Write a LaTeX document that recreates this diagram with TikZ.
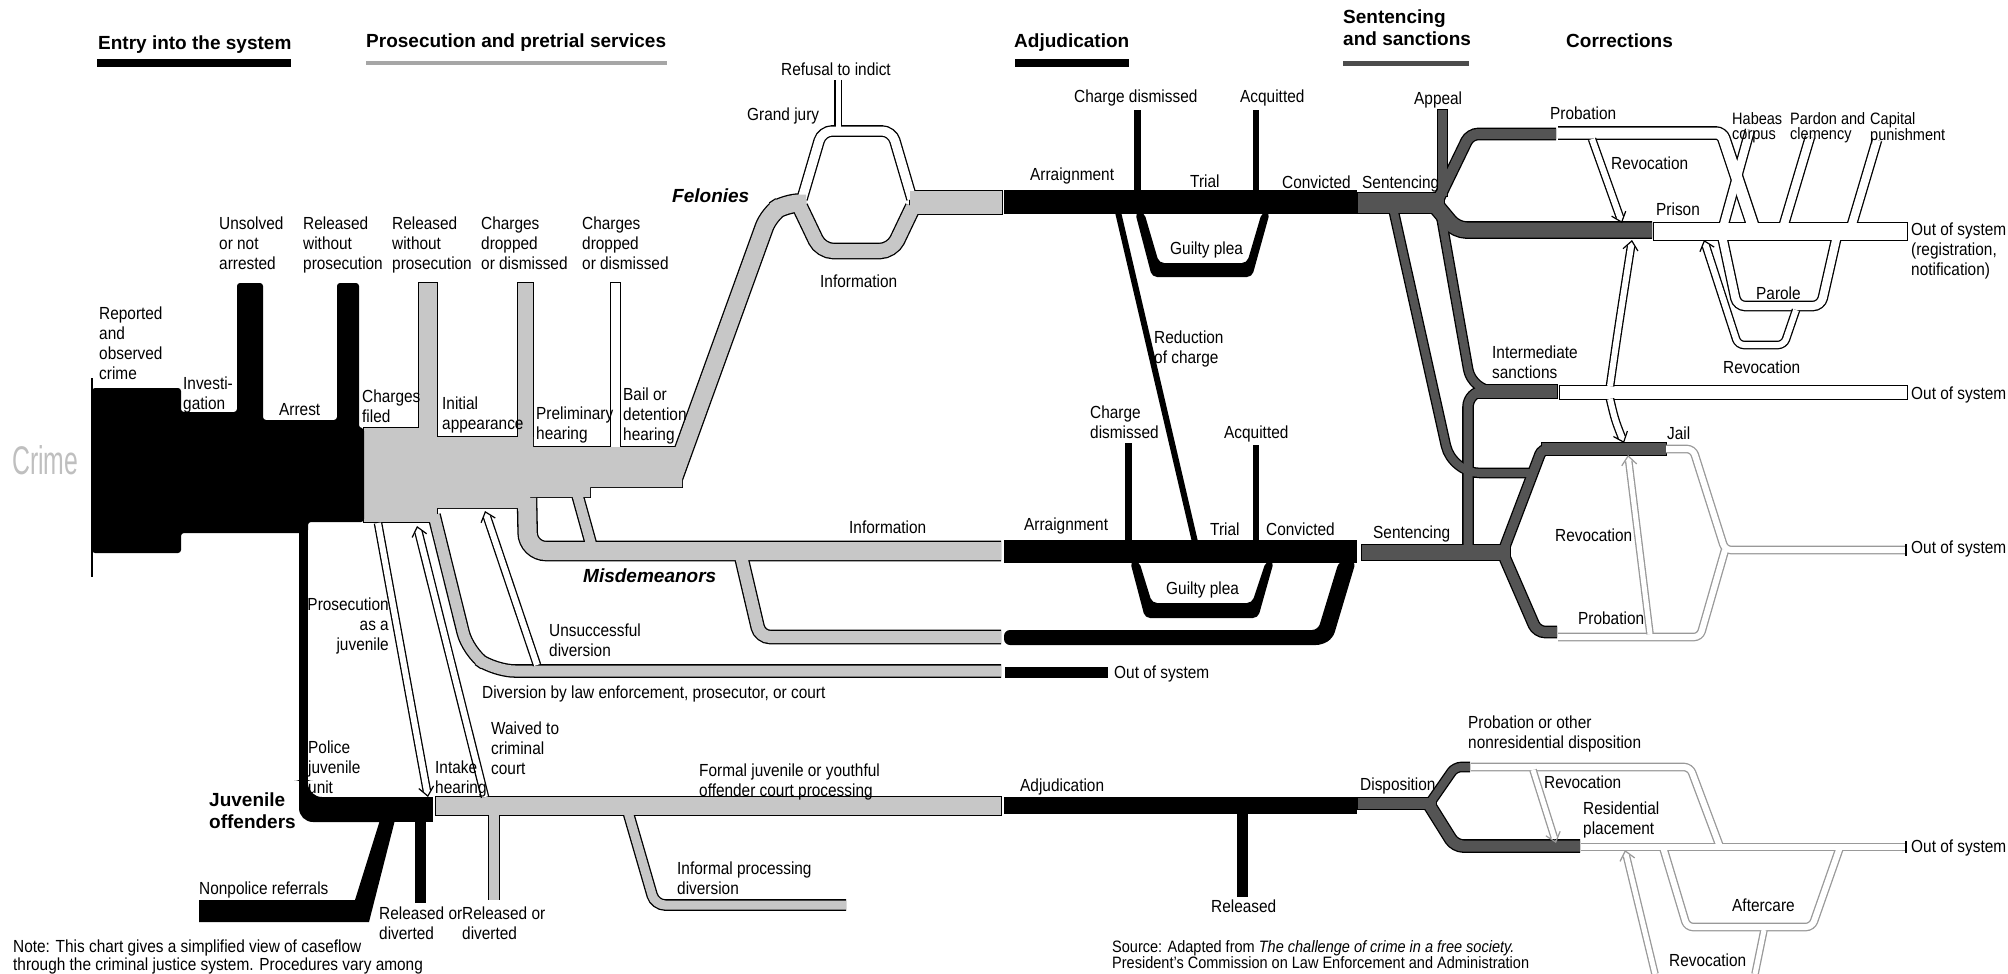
\documentclass[tikz,border=0pt]{standalone}
\usepackage{fontspec}
\setmainfont{Liberation Sans}[FakeStretch=0.88]
\newfontfamily\hfont{Liberation Sans}
\newfontfamily\cfont{Liberation Sans}[FakeStretch=0.62]
\usetikzlibrary{arrows.meta}
\definecolor{lgr}{gray}{0.78}
\definecolor{dgr}{gray}{0.33}
\definecolor{fnt}{gray}{0.6}
\newcommand\labf{\fontsize{17.5}{20}\selectfont}
\newcommand\smf{\fontsize{16.5}{15}\selectfont}
\newcommand\srcf{\fontsize{16.5}{16}\selectfont}
\newcommand\notef{\fontsize{17.5}{16}\selectfont}
\newcommand\hdrf{\hfont\bfseries\fontsize{19}{22}\selectfont}
\newif\ifoutl
\def\oc{black}
\newcommand\tb[4][8]{\ifoutl\draw[line width=#2+2.6,color=\oc,rounded corners=#1]#4;\else\draw[line width=#2,color=#3,rounded corners=#1]#4;\fi}
\newcommand\bl[2]{\ifoutl\draw[line width=2.6,color=\oc]#2;\else\fill[color=#1]#2;\fi}
\newcommand\arw[4][black]{%
 \draw[line width=#2+2.6,color=#1,shorten >=6pt] #3 -- #4;
 \draw[line width=#2,white,shorten >=5pt] #3 -- #4;
 \draw[white,line width=0.3pt,arrtip=#1] #3 -- #4;}
\newcommand\arwp[3][black]{%
 \draw[line width=#2+2.6,color=#1,rounded corners=6,shorten >=6pt] #3;
 \draw[line width=#2,white,rounded corners=6,shorten >=5pt] #3;
 \draw[white,line width=0.3pt,rounded corners=6,arrtip=#1] #3;}
\newcommand\grayparts{
 \bl{white}{(611,283) rectangle (620,449)}
 \tb[1]{5}{white}{(838,80) -- (838,128)}
 \tb[10]{9}{white}{(802,199) -- (822,131) -- (892,131) -- (912,199)}
 \bl{lgr}{(364,428) rectangle (437,522)}
 \bl{lgr}{(419,283) rectangle (437,432)}
 \bl{lgr}{(518,283) rectangle (533,441)}
 \bl{lgr}{(437,437) -- (533,437) -- (533,447) -- (682,447) -- (682,487) -- (590,487) -- (590,497) -- (530,497) -- (530,508) -- (437,508) -- cycle}
 \tb[14]{17}{lgr}{(672,482) -- (769,214) -- (786,203) -- (806,203)}
 \tb[18]{18}{lgr}{(527,498) -- (528,551) -- (1001,551)}
 \tb[3]{10}{lgr}{(576,490) -- (591,544)}
 \tb[10]{12}{lgr}{(741,556) -- (760,637) -- (1001,637)}
 \tb[20]{11}{lgr}{(434,515) -- (468,652) -- (495,671) -- (1001,671)}
 \tb[12]{14}{lgr}{(800,207) -- (821,251) -- (892,251) -- (913,207)}
 \bl{lgr}{(910,191) rectangle (1002,214)}
 \bl{lgr}{(436,797) rectangle (1001,815)}
 \tb[1]{10}{lgr}{(494,810) -- (494,900)}
 \tb[10]{9}{lgr}{(628,812) -- (655,905) -- (846,905)}
}
\newcommand\darkparts{
 \tb[28]{8}{dgr}{(1393,208) -- (1452,473) -- (1535,473)}
 \tb[22]{8}{dgr}{(1440,210) -- (1472,391) -- (1490,391)}
 \tb[16]{9}{dgr}{(1468,552) -- (1468,391) -- (1490,391)}
 \tb[8]{10}{dgr}{(1438,200) -- (1470,134) -- (1556,134)}
 \tb[10]{15}{dgr}{(1436,206) -- (1456,230) -- (1652,230)}
 \bl{dgr}{(1358,193) rectangle (1444,213)}
 \bl{dgr}{(1438,110) rectangle (1447,196)}
 \bl{dgr}{(1477,385) rectangle (1557,398)}
 \bl{dgr}{(1362,545) rectangle (1510,560)}
 \tb[6]{9}{dgr}{(1504,549) -- (1542,449) -- (1560,449)}
 \bl{dgr}{(1542,443) rectangle (1666,455)}
 \tb[8]{10}{dgr}{(1504,556) -- (1537,632) -- (1557,632)}
 \bl{dgr}{(1358,798) rectangle (1436,809)}
 \tb[6]{8}{dgr}{(1430,803) -- (1455,767) -- (1470,767)}
 \tb[8]{11}{dgr}{(1430,806) -- (1455,846) -- (1580,846)}
}
\newcommand\whiteparts{
 \tb[8]{8}{white}{(1721,231) -- (1737,306) -- (1821,306) -- (1838,231)}
 \tb[1]{8}{white}{(1722,231) -- (1750,130)}
 \tb[1]{8}{white}{(1782,231) -- (1810,137)}
 \tb[1]{8}{white}{(1850,231) -- (1877,140)}
 \tb[6]{11}{white}{(1558,133) -- (1722,133) -- (1755,232)}
 \bl{white}{(1654,223) rectangle (1907,240)}
 \bl{white}{(1560,386) rectangle (1907,399)}
}
\newcommand\faintparts{
 \tb[6]{6}{white}{(1666,449) -- (1693,449) -- (1725,550) -- (1905,550)}
 \tb[6]{6}{white}{(1558,637) -- (1700,637) -- (1725,550)}
 \tb[6]{6}{white}{(1471,767) -- (1690,767) -- (1720,847)}
 \tb[1]{6}{white}{(1581,847) -- (1905,847)}
 \tb[6]{6}{white}{(1663,847) -- (1687,927) -- (1812,927) -- (1840,847)}
 \tb[1]{5}{white}{(1764,930) -- (1755,974)}
}
\begin{document}
\begin{tikzpicture}[x=1pt,y=-1pt,
  lb/.style={font=\labf,inner sep=0pt,anchor=north west,align=left},
  hd/.style={font=\hdrf,inner sep=0pt,anchor=north west,align=left},
  arrtip/.style={-{Straight Barb[length=9pt,width=15pt,line width=1.2pt,color=#1]}}]
\fill[white] (0,0) rectangle (2008,974);
\useasboundingbox (0,0) rectangle (2008,974);

% headers
\node[hd] (hEntry) at (98,36) {Entry into the system};
\fill (97,59) rectangle (291,67);
\node[hd] (hPros) at (366,34) {Prosecution and pretrial services};
\fill[black!35] (366,61) rectangle (667,65);
\node[hd] (hAdj) at (1014,34) {Adjudication};
\fill (1015,59) rectangle (1129,67);
\node[hd] (hSent) at (1343,10) {Sentencing\\and sanctions};
\fill[black!70] (1343,61) rectangle (1469,66);
\node[hd] (hCorr) at (1566,34) {Corrections};

\node[font=\cfont\fontsize{40}{40}\selectfont,text=black!25,anchor=north west,inner sep=0pt] (crime) at (12,445) {Crime};

% gray prosecution system
\def\oc{black}
\outltrue\grayparts
\outlfalse\grayparts

% black entry
\fill[rounded corners=3] (92,388) -- (181,388) -- (181,412) -- (237,412) -- (237,283) -- (263,283) -- (263,420) -- (337,420) -- (337,283) -- (359,283) -- (359,428) -- (364,428) -- (364,522) -- (308,522) -- (308,533) -- (181,533) -- (181,553) -- (92,553) -- cycle;
\draw[line width=1.5] (92,378) -- (92,577);
% juvenile black
\fill (299,525) rectangle (308,805);
\fill[rounded corners=14] (299,780) -- (299,822) -- (400,822) -- (400,797) -- (308,797) -- (308,780) -- cycle;
\fill (380,797) rectangle (433,822);
\fill (199,900) -- (355,900) -- (380,820) -- (395,820) -- (369,922) -- (199,922) -- cycle;
\fill (415,820) rectangle (426,903);
% felony adjudication
\fill (1004,190) rectangle (1357,214);
\fill (1134,110) rectangle (1141,192);
\fill (1253,110) rectangle (1259,192);
\fill[rounded corners=5] (1135,212) -- (1152,277) -- (1252,277) -- (1270,212) -- (1262,212) -- (1247,263) -- (1159,263) -- (1144,212) -- cycle;
\draw[line width=6] (1118,212) -- (1195,542);
% misdemeanor adjudication
\fill (1004,540) rectangle (1357,563);
\fill (1125,443) rectangle (1132,541);
\fill (1253,445) rectangle (1259,541);
\fill[rounded corners=5] (1130,561) -- (1145,618) -- (1258,618) -- (1274,561) -- (1266,561) -- (1252,603) -- (1152,603) -- (1139,561) -- cycle;
\fill[rounded corners=6] (1004,630) -- (1318,630) -- (1339,561) -- (1356,561) -- (1333,638) -- (1322,645) -- (1004,645) -- cycle;
\fill (1005,667) rectangle (1108,678);
% juvenile adjudication
\fill (1004,797) rectangle (1357,814);
\fill (1237,812) rectangle (1248,897);

% sentencing
\def\oc{black}
\outltrue\darkparts
\outlfalse\darkparts

% corrections
\outltrue\whiteparts
\outlfalse\whiteparts
\def\oc{fnt}
\outltrue\faintparts
\outlfalse\faintparts
\draw[line width=1.6] (1906,544) -- (1906,556);
\draw[line width=1.6] (1906,841) -- (1906,853);

% arrows
\arw{6}{(378,523)}{(428,797)}
\arw{6}{(485,797)}{(417,526)}
\arw{6}{(537,665)}{(485,511)}
\arw{6}{(1592,139)}{(1622,223)}
\arwp{6}{(1610,386) .. controls (1618,330) .. (1632,240)}
\arwp{6}{(1610,399) .. controls (1615,420) .. (1624,443)}
\arwp{6}{(1796,310) -- (1784,345) -- (1738,345) -- (1704,240)}
\arw[fnt]{5}{(1650,634)}{(1628,455)}
\arw[fnt]{5}{(1533,770)}{(1556,843)}
\arw[fnt]{5}{(1655,974)}{(1625,850)}

% labels
\node[lb] (lUns) at (219,217) {Unsolved\\or not\\arrested};
\node[lb] (lRel1) at (303,217) {Released\\without\\prosecution};
\node[lb] (lRel2) at (392,217) {Released\\without\\prosecution};
\node[lb] (lCh1) at (481,217) {Charges\\dropped\\or dismissed};
\node[lb] (lCh2) at (582,217) {Charges\\dropped\\or dismissed};
\node[lb] (lRep) at (99,307) {Reported\\and\\observed\\crime};
\node[lb] (lInv) at (183,377) {Investi-\\gation};
\node[lb] (lArr) at (279,403) {Arrest};
\node[lb] (lChf) at (362,390) {Charges\\filed};
\node[lb] (lIni) at (442,397) {Initial\\appearance};
\node[lb] (lPre) at (536,407) {Preliminary\\hearing};
\node[lb] (lBail) at (623,388) {Bail or\\detention\\hearing};
\node[hd,font=\hdrf\itshape] (lFel) at (672,189) {Felonies};
\node[lb] (lRef) at (781,63) {Refusal to indict};
\node[lb] (lGJ) at (747,108) {Grand jury};
\node[lb] (lInf1) at (820,275) {Information};
\node[lb] (lCD1) at (1074,90) {Charge dismissed};
\node[lb] (lAcq1) at (1240,90) {Acquitted};
\node[lb] (lArg1) at (1030,168) {Arraignment};
\node[lb] (lTr1) at (1190,175) {Trial};
\node[lb] (lCv1) at (1282,176) {Convicted};
\node[lb] (lGP1) at (1170,242) {Guilty plea};
\node[lb] (lSen1) at (1362,176) {Sentencing};
\node[lb] (lApp) at (1414,92) {Appeal};
\node[lb] (lProb1) at (1550,107) {Probation};
\node[lb] (lRev1) at (1611,157) {Revocation};
\node[lb,font=\smf] (lHab) at (1732,112) {Habeas\\corpus};
\node[lb,font=\smf] (lPar) at (1790,112) {Pardon and\\clemency};
\node[lb,font=\smf] (lCap) at (1870,112) {Capital\\punishment};
\node[lb] (lPri) at (1656,203) {Prison};
\node[lb] (lOut1) at (1911,223) {Out of system\\(registration,\\notification)};
\node[lb] (lPrl) at (1756,287) {Parole};
\node[lb] (lRev2) at (1723,361) {Revocation};
\node[lb] (lInt) at (1492,346) {Intermediate\\sanctions};
\node[lb] (lOut2) at (1911,387) {Out of system};
\node[lb] (lRed) at (1154,331) {Reduction\\of charge};
\node[lb] (lCD2) at (1090,406) {Charge\\dismissed};
\node[lb] (lAcq2) at (1224,426) {Acquitted};
\node[lb] (lInf2) at (849,521) {Information};
\node[lb] (lArg2) at (1024,518) {Arraignment};
\node[lb] (lTr2) at (1210,523) {Trial};
\node[lb] (lCv2) at (1266,523) {Convicted};
\node[lb] (lGP2) at (1166,582) {Guilty plea};
\node[hd,font=\hdrf\itshape] (lMis) at (583,569) {Misdemeanors};
\node[lb] (lSen2) at (1373,526) {Sentencing};
\node[lb] (lJail) at (1667,427) {Jail};
\node[lb] (lRev3) at (1555,529) {Revocation};
\node[lb] (lProb2) at (1578,612) {Probation};
\node[lb] (lOut3) at (1911,541) {Out of system};
\node[lb] (lOut4) at (1114,666) {Out of system};
\node[lb] (lDiv) at (482,686) {Diversion by law enforcement, prosecutor, or court};
\node[lb] (lUnsd) at (549,624) {Unsuccessful\\diversion};
\node[lb,anchor=north east,align=right] (lPAJ) at (389,598) {Prosecution\\as a\\juvenile};
\node[lb] (lPJU) at (308,741) {Police\\juvenile\\unit};
\node[hd] (lJuv) at (209,793) {Juvenile\\offenders};
\node[lb] (lIntk) at (435,761) {Intake\\hearing};
\node[lb] (lWai) at (491,722) {Waived to\\criminal\\court};
\node[lb] (lNon) at (199,882) {Nonpolice referrals};
\node[lb] (lRD1) at (379,907) {Released or\\diverted};
\node[lb] (lRD2) at (462,907) {Released or\\diverted};
\node[lb] (lFor) at (699,764) {Formal juvenile or youthful\\offender court processing};
\node[lb] (lInfo) at (677,862) {Informal processing\\diversion};
\node[lb] (lAdj) at (1020,779) {Adjudication};
\node[lb] (lRel) at (1211,900) {Released};
\node[lb] (lDis) at (1360,778) {Disposition};
\node[lb] (lPOO) at (1468,716) {Probation or other\\nonresidential disposition};
\node[lb] (lRev4) at (1544,776) {Revocation};
\node[lb] (lRes) at (1583,802) {Residential\\placement};
\node[lb] (lOut5) at (1911,840) {Out of system};
\node[lb] (lAft) at (1732,899) {Aftercare};
\node[lb] (lRev5) at (1669,954) {Revocation};
\node[lb,font=\notef] (lNote) at (13,940) {Note: This chart gives a simplified view of caseflow\\through the criminal justice system. Procedures vary among};
\node[lb,font=\srcf] (lSrc) at (1112,940) {Source: Adapted from \textit{The challenge of crime in a free society.}\\President's Commission on Law Enforcement and Administration};
\end{tikzpicture}
\end{document}
